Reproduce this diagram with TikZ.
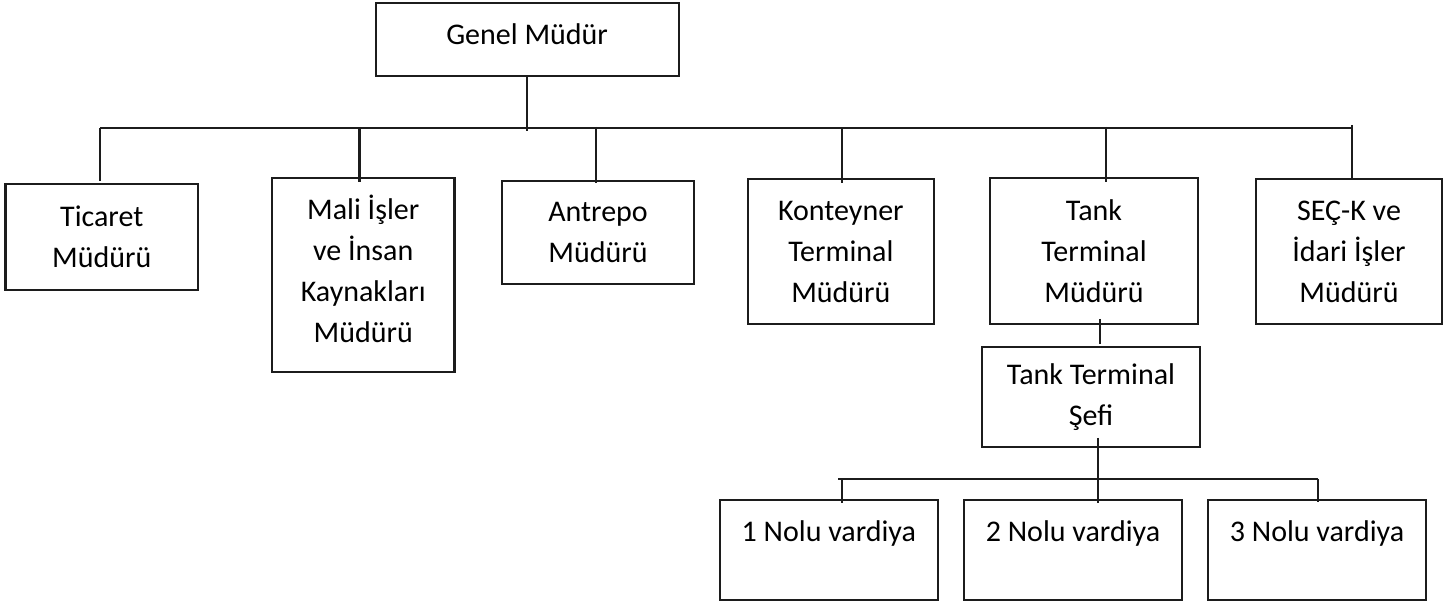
\documentclass[tikz,border=0pt]{standalone}
\usepackage{fontspec}
\setmainfont{Carlito}
\definecolor{linecol}{HTML}{1C1C1C}
\begin{document}
\begin{tikzpicture}[x=0.5pt,y=-0.5pt,
  orgbox/.style={draw=linecol, line width=1.1pt, rectangle, align=center,
    inner sep=0pt, outer sep=0pt, text=black,
    font=\fontsize{15}{20.5}\selectfont},
  shiftbox/.style={orgbox, minimum width=109pt, minimum height=50pt,
    text height=11pt, text depth=19.4pt},
  link/.style={draw=linecol, line width=1.1pt}]
\useasboundingbox (0,0) rectangle (1445,603);

% top level
\node[orgbox, minimum width=151.5pt, minimum height=36.5pt,
      text height=11pt, text depth=6.4pt] (genel) at (527.1,39.5) {Genel Müdür};

% department managers
\node[orgbox, minimum width=96.25pt, minimum height=53pt]   (ticaret)   at (101.75,237)  {Ticaret\\Müdürü};
\node[orgbox, minimum width=91.25pt, minimum height=96.7pt, text depth=6pt] (mali) at (363.25,275) {Mali İşler\\ve İnsan\\Kaynakları\\Müdürü};
\node[orgbox, minimum width=96pt,    minimum height=51.65pt](antrepo)   at (598,232.35)  {Antrepo\\Müdürü};
\node[orgbox, minimum width=93.15pt, minimum height=72.35pt](konteyner) at (840.85,251.65){Konteyner\\Terminal\\Müdürü};
\node[orgbox, minimum width=104pt,   minimum height=72.85pt](tank)      at (1094,251.15) {Tank\\Terminal\\Müdürü};
\node[orgbox, minimum width=93pt,    minimum height=72.35pt](seck)      at (1349,251.65) {SEÇ-K ve\\İdari İşler\\Müdürü};

% tank terminal branch
\node[orgbox, minimum width=109pt, minimum height=50pt] (sefi) at (1091,397) {Tank Terminal\\Şefi};
\node[shiftbox, minimum width=108.85pt] (v1) at (828.85,550) {1 Nolu vardiya};
\node[shiftbox] (v2) at (1073,550) {2 Nolu vardiya};
\node[shiftbox] (v3) at (1317,550) {3 Nolu vardiya};

% main bus
\coordinate (busL) at (100,128.3);
\coordinate (busR) at (1352,128.3);
\coordinate (gtap) at (527.1,131.5);
\draw[link] (genel.south) -- (gtap);
\draw[link] (busL) -- (busR);

% drops to the department boxes
\coordinate (d1) at (100,128.3);
\coordinate (d2) at (359.5,128.3);
\coordinate (d3) at (596,127);
\coordinate (d4) at (841.6,128.3);
\coordinate (d5) at (1106,127);
\coordinate (d6) at (1352,125);
\draw[link] (d1) -- ([yshift=1.5pt]d1 |- ticaret.north);
\draw[link] (d2) -- ([yshift=-2pt]d2 |- mali.north);
\draw[link] (d3) -- ([yshift=-1pt]d3 |- antrepo.north);
\draw[link] (d4) -- ([yshift=-2pt]d4 |- konteyner.north);
\draw[link] (d5) -- ([yshift=-2pt]d5 |- tank.north);
\draw[link] (d6) -- (d6 |- seck.north);

% tank manager to chief
\coordinate (t2s) at (1100,330);
\draw[link] ([yshift=2.5pt]t2s |- tank.south) -- ([yshift=1.5pt]t2s |- sefi.north);

% chief to shifts
\coordinate (b2L) at (838,479);
\coordinate (b2R) at (1318,479);
\coordinate (b2M) at (1098,479);
\coordinate (s1) at (842,479);
\draw[link] ([yshift=4.5pt]b2M |- sefi.south) -- ([yshift=-1.5pt]b2M |- v2.north);
\draw[link] (b2L) -- (b2R);
\draw[link] (s1) -- ([yshift=-1.5pt]s1 |- v1.north);
\draw[link] (b2R) -- ([yshift=-1pt]b2R |- v3.north);
\end{tikzpicture}
\end{document}
